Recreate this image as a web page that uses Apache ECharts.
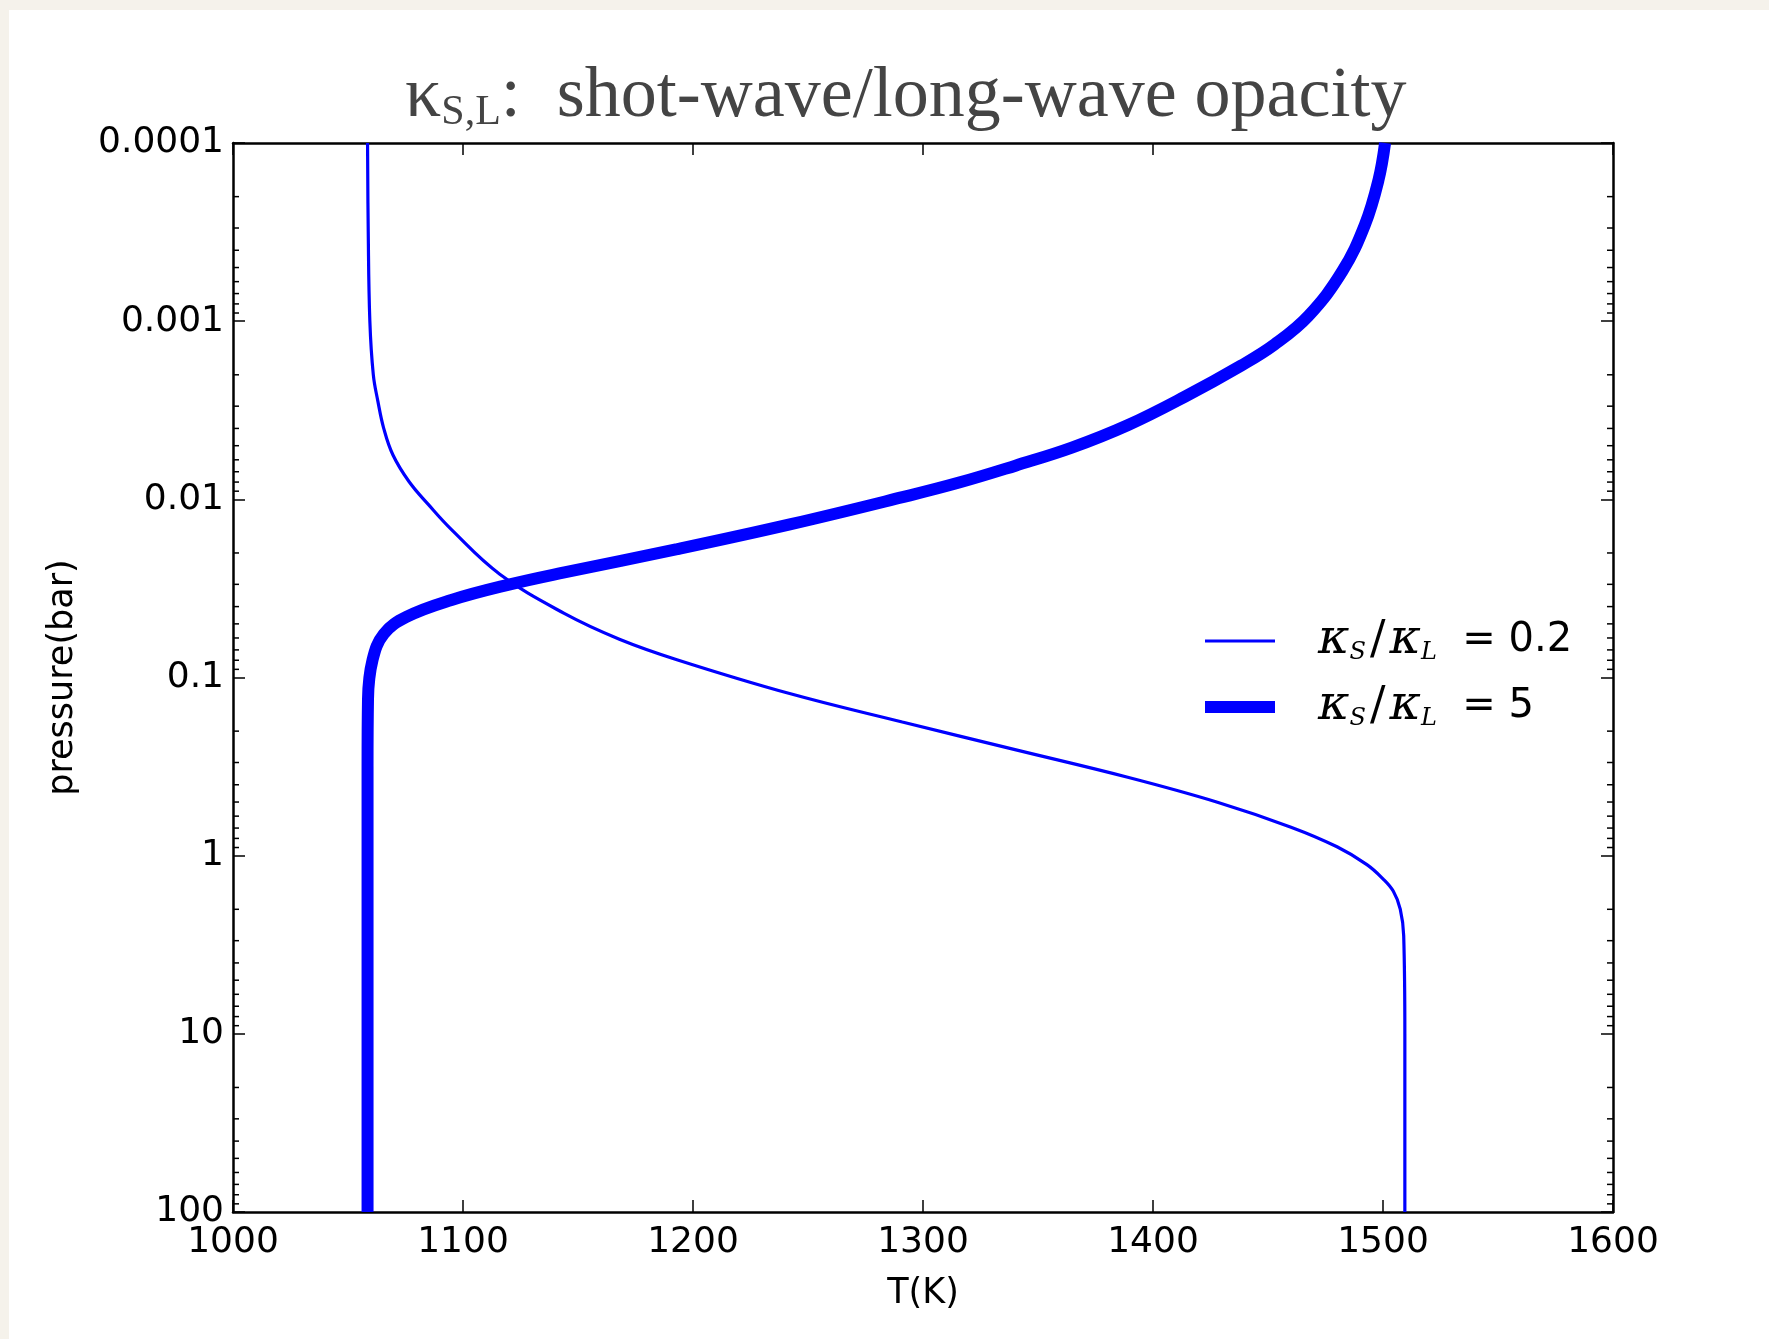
<!DOCTYPE html>
<html>
<head>
<meta charset="utf-8">
<script src="https://cdn.jsdelivr.net/npm/echarts@6/dist/echarts.min.js"></script>
<style>
  html, body { margin: 0; padding: 0; width: 1769px; height: 1339px; background: #f5f2eb; overflow: hidden; }
  #card { position: absolute; left: 9px; top: 10px; right: 0; bottom: 0; background: #ffffff; }
  #chart { position: absolute; left: 0; top: 0; width: 1769px; height: 1339px; }
</style>
</head>
<body>
<div id="card"></div>
<div id="chart"></div>
<script>
// ---- data ----
const xTicks = [1000, 1100, 1200, 1300, 1400, 1500, 1600];
const yTickLabels = ['0.0001', '0.001', '0.01', '0.1', '1', '10', '100'];
const yMinorTicks = [];
[1e-4, 1e-3, 1e-2, 1e-1, 1, 10].forEach(function (d) {
  [2, 3, 4, 5, 6, 7, 8, 9].forEach(function (m) { yMinorTicks.push(+(m * d).toPrecision(3)); });
});

// kS/kL = 0.2 (thin line): temperature (K) and log10 pressure (bar)
const thinT = [1058.5, 1058.8, 1059.5, 1061.0, 1063.0, 1065.5, 1069.5, 1076.5, 1085.0, 1095.0, 1116.0, 1144.0,
               1168.0, 1193.0, 1242.0, 1291.0, 1340.0, 1389.0, 1428.0, 1460.0, 1480.0, 1493.0, 1500.0, 1504.5,
               1507.5, 1509.0, 1509.5, 1509.5];
const thinLogP = [-4.00, -3.50, -3.00, -2.70, -2.55, -2.40, -2.25, -2.10, -1.97, -1.83, -1.58, -1.36,
                  -1.215, -1.10, -0.91, -0.75, -0.595, -0.44, -0.30, -0.16, -0.05, 0.05, 0.13, 0.20,
                  0.30, 0.45, 1.00, 2.00];

// kS/kL = 5 (thick line)
const thickT = [1500.9, 1498.0, 1492.1, 1482.3, 1467.6, 1452.9, 1438.2, 1413.7, 1389.2, 1364.7, 1340.2, 1315.7,
                1291.1, 1242.1, 1193.1, 1144.1, 1119.5, 1095.0, 1075.4, 1065.6, 1060.7, 1058.7, 1058.5, 1058.5];
const thickLogP = [-4.00, -3.79, -3.54, -3.28, -3.03, -2.87, -2.75, -2.575, -2.417, -2.29, -2.189, -2.094,
                   -2.012, -1.859, -1.720, -1.590, -1.52, -1.435, -1.34, -1.245, -1.10, -0.88, -0.50, 2.00];

const seriesNames = ['κS/κL = 0.2', 'κS/κL = 5'];

// ---- chart ----
const chart = echarts.init(document.getElementById('chart'), null, { renderer: 'canvas' });

function pairs(xs, logs) { return xs.map(function (x, i) { return [x, Math.pow(10, logs[i])]; }); }

const axisLineStyle = { color: '#000', width: 2.5 };
const tickStyle = { color: '#000', width: 1.5 };
const legendRich = {
  k: { fontFamily: 'DejaVu Serif', fontStyle: 'italic', fontSize: 48, color: '#000' },
  sub: { fontFamily: 'DejaVu Serif', fontStyle: 'italic', fontSize: 24, color: '#000', padding: [24, 0, 0, 0] },
  sl: { fontFamily: 'DejaVu Serif', fontSize: 46, color: '#000', padding: [0, 4, 0, 4] },
  eq: { fontFamily: 'DejaVu Sans', fontSize: 40, color: '#000' }
};

const option = {
  backgroundColor: 'transparent',
  animation: false,
  title: {
    text: '{k|κ}{sub|S,L}{t|:  shot-wave/long-wave opacity}',
    left: 400,
    top: 55,
    textStyle: {
      fontFamily: 'Liberation Serif',
      fontSize: 72,
      fontWeight: 'normal',
      color: '#444444',
      rich: {
        k: { fontFamily: 'Liberation Serif', fontSize: 72, color: '#444444' },
        sub: { fontFamily: 'Liberation Serif', fontSize: 42, color: '#444444', padding: [32, 0, 0, 0] },
        t: { fontFamily: 'Liberation Serif', fontSize: 72, color: '#444444' }
      }
    }
  },
  grid: { left: 233, top: 143, width: 1380, height: 1069, containLabel: false },
  legend: {
    orient: 'vertical',
    left: 1200,
    top: 612,
    itemWidth: 70,
    itemHeight: 38,
    itemGap: 18,
    symbolKeepAspect: false,
    data: [
      { name: seriesNames[0], icon: 'path://M0,0M0,17.5H70V20.5H0ZM70,38', itemStyle: { color: '#0000ff', borderWidth: 0 } },
      { name: seriesNames[1], icon: 'path://M0,0M0,13H70V25H0ZM70,38', itemStyle: { color: '#0000ff', borderWidth: 0 } }
    ],
    formatter: function (name) {
      const v = name.split('= ')[1];
      return '{k|κ}{sub|S}{sl|/}{k|κ}{sub|L}{eq|  = ' + v + '}';
    },
    textStyle: {
      padding: [0, 0, 0, 38],
      rich: legendRich
    }
  },
  xAxis: [
    {
      type: 'value', min: 1000, max: 1600, interval: 100, position: 'bottom',
      name: 'T(K)', nameLocation: 'middle', nameGap: 64,
      nameTextStyle: { fontFamily: 'DejaVu Sans', fontSize: 35, color: '#000' },
      axisLine: { show: true, lineStyle: axisLineStyle },
      axisTick: { show: true, inside: true, length: 12, lineStyle: tickStyle },
      axisLabel: { show: true, fontFamily: 'DejaVu Sans', fontSize: 36, color: '#000', margin: 13,
                   showMinLabel: true, showMaxLabel: true,
                   formatter: function (v) { return String(v); } },
      splitLine: { show: false }
    },
    {
      type: 'value', min: 1000, max: 1600, interval: 100, position: 'top',
      axisLine: { show: true, lineStyle: axisLineStyle },
      axisTick: { show: true, inside: true, length: 12, lineStyle: tickStyle },
      axisLabel: { show: false },
      splitLine: { show: false }
    }
  ],
  yAxis: [
    {
      type: 'log', logBase: 10, min: 0.0001, max: 100, inverse: true, position: 'left', splitNumber: 6,
      name: 'pressure(bar)', nameLocation: 'middle', nameGap: 153, nameRotate: 90,
      nameTextStyle: { fontFamily: 'DejaVu Sans', fontSize: 35, color: '#000' },
      axisLine: { show: true, lineStyle: axisLineStyle },
      axisTick: { show: true, inside: true, length: 12, lineStyle: tickStyle },
      axisLabel: {
        show: true, fontFamily: 'DejaVu Sans', fontSize: 36, color: '#000', margin: 9,
        showMinLabel: true, showMaxLabel: true,
        formatter: function (value) {
          const k = Math.round(Math.log10(value)) + 4;
          return yTickLabels[k] !== undefined ? yTickLabels[k] : '';
        }
      },
      splitLine: { show: false }
    },
    {
      type: 'log', logBase: 10, min: 0.0001, max: 100, inverse: true, position: 'right', splitNumber: 6,
      axisLine: { show: true, lineStyle: axisLineStyle },
      axisTick: { show: true, inside: true, length: 12, lineStyle: tickStyle },
      axisLabel: { show: false },
      splitLine: { show: false }
    }
  ],
  series: [
    {
      name: seriesNames[0], type: 'line', xAxisIndex: 0, yAxisIndex: 0,
      data: pairs(thinT, thinLogP), symbol: 'none', smooth: 0.4,
      lineStyle: { color: '#0000ff', width: 3.2 }, itemStyle: { color: '#0000ff' }, z: 3
    },
    {
      name: seriesNames[1], type: 'line', xAxisIndex: 0, yAxisIndex: 0,
      data: pairs(thickT, thickLogP), symbol: 'none', smooth: 0.4,
      lineStyle: { color: '#0000ff', width: 12 }, itemStyle: { color: '#0000ff' }, z: 2
    },
    {
      type: 'custom', xAxisIndex: 0, yAxisIndex: 0, silent: true, clip: false, z: 5,
      data: yMinorTicks.map(function (v) { return [1000, v]; }),
      renderItem: function (params, api) {
        const v = api.value(1);
        const l = api.coord([1000, v]);
        const r = api.coord([1600, v]);
        return {
          type: 'group',
          children: [
            { type: 'line', shape: { x1: l[0], y1: l[1], x2: l[0] + 6, y2: l[1] }, style: { stroke: '#000', lineWidth: 1.5 } },
            { type: 'line', shape: { x1: r[0] - 6, y1: r[1], x2: r[0], y2: r[1] }, style: { stroke: '#000', lineWidth: 1.5 } }
          ]
        };
      }
    }
  ]
};

chart.setOption(option);
</script>
</body>
</html>
